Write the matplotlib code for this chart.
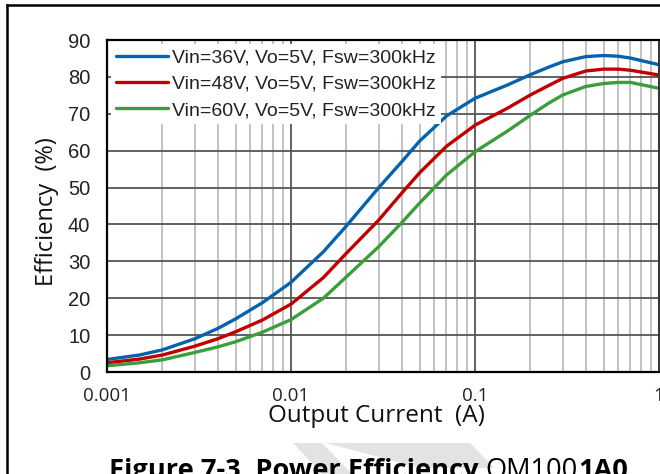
#!/usr/bin/env python3

import matplotlib
matplotlib.use('Agg')
import matplotlib.pyplot as plt
from matplotlib.lines import Line2D
from matplotlib.patches import Polygon
from matplotlib.ticker import LogLocator, NullFormatter, FixedLocator

W, H = 660, 474

# values (output current in A, efficiency in %)
current = [0.001, 0.0015, 0.002, 0.003, 0.004, 0.005, 0.007, 0.01, 0.015, 0.02,
           0.03, 0.04, 0.05, 0.07, 0.1, 0.15, 0.2, 0.25, 0.3, 0.4, 0.5, 0.6, 0.7, 1.0]
eff_36v = [3.4, 4.6, 6.0, 9.0, 11.8, 14.4, 18.8, 24.3, 32.6, 39.6,
           50.0, 57.0, 62.6, 69.4, 74.2, 77.8, 80.6, 82.6, 84.1, 85.5, 85.8, 85.6, 85.1, 83.3]
eff_48v = [2.5, 3.5, 4.6, 7.0, 9.0, 10.9, 14.1, 18.4, 25.6, 32.2,
           41.2, 48.5, 54.0, 61.2, 66.9, 71.5, 75.1, 77.6, 79.6, 81.6, 82.1, 82.1, 81.8, 80.5]
eff_60v = [1.7, 2.5, 3.3, 5.3, 6.8, 8.2, 10.8, 14.2, 20.0, 25.8,
           34.0, 40.5, 45.8, 53.4, 59.7, 65.3, 69.6, 72.8, 75.1, 77.4, 78.2, 78.5, 78.5, 76.9]

labels = ["Vin=36V, Vo=5V, Fsw=300kHz",
          "Vin=48V, Vo=5V, Fsw=300kHz",
          "Vin=60V, Vo=5V, Fsw=300kHz"]
colors = ["#0563AE", "#C00000", "#3A9F3A"]

y_ticks = [0, 10, 20, 30, 40, 50, 60, 70, 80, 90]
x_ticks = [0.001, 0.01, 0.1, 1]
x_ticklabels = ["0.001", "0.01", "0.1", "1"]


def fx(px):
    return px / W


def fy(py):
    return 1 - py / H


fig = plt.figure(figsize=(W / 100, H / 100), dpi=100)
fig.patch.set_facecolor('white')

# page frame lines from the datasheet crop
fig.add_artist(Line2D([fx(7), fx(660)], [fy(5), fy(5)], color='black', lw=1.8))
fig.add_artist(Line2D([fx(7), fx(7)], [fy(5), fy(474)], color='black', lw=1.8))

# faint watermark arrow behind the caption
fig.add_artist(Polygon([(fx(293), fy(443)), (fx(322), fy(443)),
                        (fx(352), fy(474)), (fx(322), fy(474))],
                       closed=True, color='#e3e3e3', lw=0, zorder=0))
fig.add_artist(Polygon([(fx(326), fy(443)), (fx(470), fy(443)),
                        (fx(494), fy(468)), (fx(420), fy(468))],
                       closed=True, color='#e3e3e3', lw=0, zorder=0))

ax = fig.add_axes([fx(107), fy(372), fx(659) - fx(107), fy(40) - fy(372)])
ax.set_xscale('log')
ax.set_xlim(0.001, 1)
ax.set_ylim(0, 90)

ax.xaxis.set_major_locator(FixedLocator(x_ticks))
ax.set_xticklabels(x_ticklabels, family='Open Sans', fontsize=13.5)
ax.xaxis.set_minor_locator(LogLocator(base=10, subs=range(2, 10)))
ax.xaxis.set_minor_formatter(NullFormatter())
ax.set_yticks(y_ticks)
ax.set_yticklabels([str(v) for v in y_ticks], family='Liberation Sans',
                   fontsize=14.5, color='#222222')
ax.tick_params(which='both', length=0)
ax.tick_params(axis='x', pad=11, colors='#222222')
ax.tick_params(axis='y', pad=12)

ax.grid(which='major', color='#555555', lw=1.3)
ax.grid(which='minor', axis='x', color='#bdbdbd', lw=1.3)
ax.set_axisbelow(True)

for side in ['left', 'bottom', 'top']:
    ax.spines[side].set_color('black')
    ax.spines[side].set_linewidth(1.6)
ax.spines['right'].set_color('#333333')
ax.spines['right'].set_linewidth(1.4)

for ys, c, lab in zip([eff_36v, eff_48v, eff_60v], colors, labels):
    ax.plot(current, ys, color=c, lw=2.4, label=lab,
            solid_capstyle='round', solid_joinstyle='round')

leg = ax.legend(loc='upper left', prop={'family': 'Liberation Sans', 'size': 14},
                handlelength=2.7, handletextpad=0.2, labelspacing=0.45,
                borderaxespad=0.2, borderpad=0.25, frameon=True, fancybox=False)
leg.get_frame().set_facecolor('white')
leg.get_frame().set_edgecolor('none')
leg.get_frame().set_alpha(1)
for t in leg.get_texts():
    t.set_color('#222222')

fig.text(fx(47), fy(212), "Efficiency  (%)", rotation=90, ha='center', va='center',
         family='Open Sans', fontsize=17, color='#111111')
fig.text(fx(376), fy(416), "Output Current  (A)", ha='center', va='center',
         family='Open Sans', fontsize=17.5, color='#111111')

# caption: bold / regular / bold pieces placed one after the other
parts = [("Figure 7-3. Power Efficiency ", 'bold'), ("QM100", 'normal'), ("1A0", 'bold')]
fig.canvas.draw()
renderer = fig.canvas.get_renderer()
x0 = 109
for txt, weight in parts:
    t = fig.text(fx(x0), fy(478), txt, ha='left', va='baseline', family='Open Sans',
                 fontweight=weight, fontsize=19.6, color='black')
    bb = t.get_window_extent(renderer=renderer)
    x0 += bb.width

fig.savefig('out.png', dpi=100, facecolor='white')
